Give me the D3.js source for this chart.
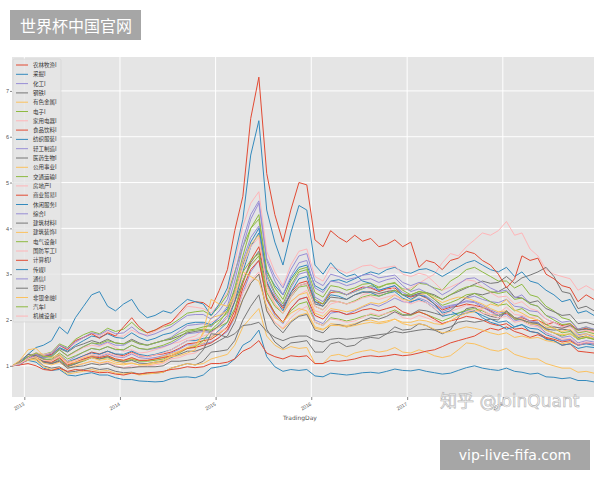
<!DOCTYPE html>
<html lang="zh">
<head>
<meta charset="utf-8">
<script src="https://d3js.org/d3.v7.min.js"></script>
<style>
  body { margin:0; background:#fff; font-family:"Noto Sans CJK SC","DejaVu Sans",sans-serif; }
</style>
</head>
<body>
<script>
// 申万一级行业 累计净值（每月中旬取值，2012-11 ～ 2018-12）
const industryNames = ["农林牧渔I","采掘I","化工I","钢铁I","有色金属I","电子I","家用电器I","食品饮料I","纺织服装I","轻工制造I",
  "医药生物I","公用事业I","交通运输I","房地产I","商业贸易I","休闲服务I","综合I","建筑材料I","建筑装饰I","电气设备I",
  "国防军工I","计算机I","传媒I","通信I","银行I","非银金融I","汽车I","机械设备I"];
const palette = ["#E24A33","#348ABD","#988ED5","#777777","#FBC15E","#8EBA42","#FFB5B8"];
const tradingDays = d3.timeMonth.range(new Date(2012,10,1), new Date(2018,11,2)).map(d => d3.timeDay.offset(d,14));
const yearTicks = [2013,2014,2015,2016,2017,2018];
const valueTicks = [1,2,3,4,5,6,7];

const nonglin = [1.00,1.06, 1.20,1.26,1.15,1.12,1.24,1.06,1.14,1.22,1.30,1.26,1.32,1.25, 1.22,1.30,1.22,1.20,1.24,1.26,1.30,1.38,1.48,1.50,1.55,1.58, 1.70,1.85,2.20,2.80,3.30,3.60,2.80,2.50,2.25,2.60,2.80,2.85, 2.40,2.35,2.60,2.62,2.55,2.65,2.72,2.70,2.62,2.68,2.70,2.55, 2.50,2.55,2.48,2.35,2.22,2.28,2.30,2.35,2.32,2.28,2.20,2.10, 2.15,2.02,2.05,1.98,2.00,1.90,1.95,1.88,1.92,1.78,1.82,1.76];
const caijue = [1.00,1.05, 1.12,1.08,0.95,0.90,0.92,0.80,0.78,0.82,0.85,0.80,0.80,0.74, 0.70,0.70,0.67,0.66,0.65,0.66,0.72,0.75,0.76,0.74,0.80,0.95, 0.98,1.02,1.15,1.45,1.55,1.78,1.20,0.98,0.88,0.92,0.90,0.92, 0.78,0.76,0.84,0.82,0.80,0.82,0.85,0.86,0.84,0.88,0.93,0.90, 0.89,0.92,0.88,0.85,0.82,0.84,0.90,0.96,1.00,0.95,0.92,0.90, 0.95,0.88,0.86,0.82,0.84,0.76,0.75,0.72,0.74,0.68,0.68,0.65];
const huagong = [1.00,1.05, 1.16,1.22,1.10,1.06,1.16,1.00,1.06,1.14,1.22,1.20,1.26,1.20, 1.18,1.26,1.18,1.16,1.18,1.22,1.28,1.36,1.46,1.45,1.48,1.52, 1.62,1.75,2.05,2.60,3.05,3.30,2.45,2.10,1.92,2.25,2.45,2.50, 2.00,1.92,2.15,2.18,2.12,2.20,2.28,2.35,2.30,2.38,2.48,2.40, 2.38,2.48,2.42,2.30,2.18,2.25,2.35,2.48,2.52,2.45,2.40,2.38, 2.45,2.30,2.28,2.20,2.18,2.02,1.95,1.85,1.88,1.68,1.70,1.62];
const gangtie = [1.00,1.07, 1.18,1.15,1.00,0.95,0.98,0.86,0.88,0.92,0.96,0.92,0.94,0.88, 0.85,0.86,0.82,0.84,0.84,0.86,0.95,1.00,1.05,1.02,1.10,1.30, 1.32,1.35,1.55,2.00,2.30,2.55,1.80,1.52,1.38,1.50,1.52,1.55, 1.30,1.30,1.48,1.52,1.42,1.45,1.58,1.62,1.60,1.70,1.85,1.78, 1.80,1.92,1.88,1.78,1.70,1.78,2.05,2.25,2.28,2.15,2.08,2.05, 2.20,2.05,2.00,1.92,1.95,1.80,1.78,1.80,1.78,1.62,1.65,1.58];
const youse = [1.00,1.06, 1.15,1.12,0.98,0.92,0.95,0.82,0.85,0.88,0.92,0.88,0.90,0.84, 0.82,0.85,0.80,0.82,0.84,0.86,0.95,1.00,1.05,1.02,1.05,1.15, 1.20,1.25,1.45,1.85,2.05,2.25,1.65,1.45,1.35,1.42,1.38,1.40, 1.05,1.05,1.22,1.25,1.20,1.28,1.32,1.35,1.30,1.33,1.40,1.30, 1.28,1.35,1.30,1.22,1.18,1.22,1.35,1.50,1.48,1.42,1.35,1.32, 1.38,1.25,1.20,1.15,1.15,1.05,1.00,0.95,0.95,0.86,0.88,0.84];
const dianzi = [1.00,1.03, 1.18,1.28,1.25,1.30,1.48,1.40,1.58,1.68,1.75,1.70,1.82,1.75, 1.80,1.95,1.80,1.72,1.78,1.85,1.90,2.02,2.15,2.18,2.20,2.10, 2.30,2.55,3.05,3.60,4.00,4.20,3.00,2.60,2.35,2.75,3.05,3.10, 2.45,2.35,2.65,2.60,2.55,2.62,2.68,2.75,2.70,2.78,2.80,2.68, 2.65,2.80,2.78,2.70,2.65,2.85,2.95,3.10,3.15,3.05,2.95,2.85, 2.85,2.70,2.78,2.55,2.50,2.30,2.20,2.05,2.00,1.80,1.85,1.78];
const jiadian = [1.00,1.08, 1.22,1.28,1.20,1.22,1.35,1.20,1.30,1.40,1.45,1.42,1.50,1.40, 1.32,1.35,1.28,1.30,1.35,1.40,1.48,1.52,1.60,1.65,1.78,1.95, 2.05,2.20,2.45,2.95,3.20,3.40,2.65,2.35,2.15,2.40,2.55,2.65, 2.20,2.15,2.35,2.40,2.35,2.40,2.55,2.60,2.55,2.62,2.72,2.65, 2.70,2.80,2.90,3.00,3.25,3.45,3.40,3.60,3.75,3.90,3.85,3.95, 4.15,3.85,3.90,3.55,3.40,3.10,3.00,2.95,2.90,2.65,2.75,2.65];
const shipin = [1.00,1.02, 1.05,1.00,0.92,0.90,0.95,0.88,0.92,0.90,0.88,0.85,0.86,0.82, 0.80,0.84,0.82,0.85,0.86,0.88,0.92,0.94,0.98,0.96,0.98,1.05, 1.05,1.08,1.15,1.32,1.40,1.55,1.28,1.20,1.15,1.22,1.20,1.22, 1.05,1.05,1.12,1.10,1.12,1.15,1.20,1.22,1.20,1.22,1.25,1.22, 1.24,1.28,1.32,1.35,1.42,1.50,1.55,1.60,1.65,1.75,1.82,1.78, 1.85,1.75,1.70,1.62,1.68,1.60,1.55,1.45,1.48,1.32,1.30,1.28];
const fangzhi = [1.00,1.05, 1.18,1.25,1.15,1.12,1.22,1.08,1.15,1.22,1.28,1.25,1.32,1.26, 1.25,1.32,1.25,1.22,1.25,1.30,1.35,1.45,1.55,1.55,1.60,1.62, 1.78,1.95,2.40,3.05,3.60,3.90,2.85,2.45,2.20,2.60,2.90,2.95, 2.40,2.30,2.55,2.52,2.45,2.55,2.62,2.60,2.52,2.58,2.62,2.48, 2.40,2.45,2.38,2.25,2.08,2.12,2.15,2.20,2.18,2.10,2.02,1.95, 1.98,1.85,1.90,1.82,1.80,1.68,1.62,1.55,1.58,1.45,1.48,1.45];
const qinggong = [1.00,1.04, 1.15,1.22,1.14,1.12,1.25,1.10,1.20,1.30,1.38,1.35,1.42,1.35, 1.35,1.45,1.38,1.35,1.38,1.42,1.48,1.58,1.70,1.72,1.75,1.72, 1.90,2.10,2.60,3.30,3.80,4.05,2.95,2.55,2.30,2.70,3.00,3.05, 2.50,2.40,2.65,2.62,2.55,2.62,2.70,2.72,2.65,2.70,2.75,2.60, 2.52,2.58,2.52,2.40,2.25,2.30,2.35,2.42,2.40,2.32,2.22,2.15, 2.18,2.02,2.08,1.98,1.95,1.78,1.72,1.62,1.65,1.50,1.55,1.52];
const yiyao = [1.00,1.04, 1.14,1.20,1.18,1.22,1.38,1.30,1.42,1.48,1.55,1.50,1.58,1.50, 1.48,1.58,1.50,1.45,1.50,1.55,1.58,1.65,1.72,1.75,1.78,1.75, 1.88,2.05,2.40,2.85,3.25,3.50,2.75,2.45,2.30,2.55,2.75,2.80, 2.35,2.30,2.50,2.48,2.45,2.55,2.60,2.62,2.58,2.62,2.65,2.55, 2.52,2.58,2.60,2.55,2.45,2.55,2.62,2.70,2.78,2.85,2.80,2.82, 2.95,2.80,2.92,2.98,3.05,3.15,2.95,2.62,2.58,2.25,2.30,2.20];
const gongyong = [1.00,1.05, 1.12,1.15,1.10,1.12,1.22,1.08,1.12,1.18,1.22,1.18,1.22,1.15, 1.12,1.16,1.12,1.12,1.15,1.20,1.26,1.32,1.40,1.42,1.50,1.62, 1.72,1.82,2.05,2.45,2.80,3.00,2.20,1.95,1.80,1.98,2.10,2.15, 1.82,1.78,1.92,1.90,1.88,1.92,1.98,2.00,1.95,1.98,2.02,1.92, 1.88,1.92,1.88,1.80,1.72,1.75,1.80,1.85,1.82,1.78,1.72,1.68, 1.72,1.62,1.65,1.60,1.62,1.55,1.52,1.48,1.52,1.45,1.50,1.48];
const jiaotong = [1.00,1.06, 1.15,1.20,1.10,1.08,1.15,1.00,1.05,1.10,1.18,1.15,1.18,1.12, 1.10,1.14,1.10,1.10,1.12,1.15,1.22,1.28,1.38,1.42,1.55,1.78, 1.85,1.95,2.25,2.85,3.20,3.40,2.50,2.15,1.95,2.20,2.35,2.40, 1.95,1.88,2.05,2.02,1.98,2.02,2.08,2.12,2.08,2.15,2.22,2.12, 2.10,2.18,2.12,2.05,1.98,2.05,2.15,2.22,2.25,2.20,2.12,2.10, 2.18,2.02,2.00,1.92,1.90,1.78,1.72,1.65,1.70,1.58,1.62,1.58];
const fangdichan = [1.00,1.08, 1.25,1.22,1.08,1.05,1.10,0.95,1.00,1.05,1.10,1.05,1.08,1.00, 0.96,1.00,0.98,1.00,1.02,1.05,1.15,1.18,1.25,1.28,1.40,1.65, 1.75,1.82,2.10,2.60,2.85,3.05,2.25,1.95,1.82,2.05,2.20,2.30, 1.95,1.88,2.02,2.00,1.95,1.98,2.05,2.15,2.10,2.15,2.18,2.05, 2.02,2.10,2.05,1.98,1.92,1.98,2.08,2.18,2.22,2.15,2.12,2.15, 2.28,2.12,2.10,2.05,2.08,1.95,1.85,1.82,1.85,1.72,1.78,1.75];
const shangmao = [1.00,1.05, 1.15,1.20,1.10,1.08,1.18,1.02,1.08,1.15,1.20,1.18,1.22,1.15, 1.12,1.18,1.12,1.12,1.15,1.18,1.22,1.30,1.38,1.40,1.45,1.50, 1.62,1.78,2.10,2.70,3.10,3.30,2.45,2.15,1.95,2.25,2.45,2.50, 2.10,2.02,2.20,2.18,2.12,2.15,2.22,2.25,2.20,2.25,2.30,2.18, 2.12,2.18,2.12,2.02,1.92,1.98,2.02,2.08,2.05,2.00,1.92,1.88, 1.92,1.80,1.82,1.75,1.72,1.62,1.58,1.52,1.55,1.45,1.50,1.48];
const xiuxian = [1.00,1.04, 1.16,1.25,1.20,1.24,1.40,1.32,1.45,1.55,1.65,1.62,1.70,1.62, 1.60,1.72,1.62,1.55,1.60,1.68,1.72,1.82,1.92,1.95,1.95,1.90, 2.05,2.25,2.65,3.20,3.70,4.00,3.05,2.75,2.55,2.90,3.15,3.20, 2.75,2.65,2.85,2.88,2.82,2.90,2.98,3.05,3.00,3.10,3.15,3.05, 3.02,3.10,3.12,3.05,2.95,3.05,3.15,3.25,3.30,3.20,3.10,3.05, 3.15,2.95,3.05,2.85,2.80,2.65,2.55,2.40,2.45,2.15,2.20,2.10];
const zonghe = [1.00,1.04, 1.15,1.24,1.18,1.20,1.35,1.22,1.32,1.42,1.50,1.45,1.52,1.45, 1.45,1.55,1.48,1.45,1.50,1.55,1.62,1.75,1.88,1.90,1.92,1.85, 2.05,2.30,2.85,3.60,4.20,4.55,3.30,2.85,2.55,2.95,3.25,3.30, 2.70,2.60,2.85,2.82,2.75,2.80,2.88,2.90,2.82,2.88,2.92,2.75, 2.62,2.68,2.60,2.45,2.28,2.32,2.35,2.40,2.38,2.28,2.18,2.10, 2.12,1.98,2.02,1.92,1.88,1.72,1.65,1.55,1.58,1.45,1.50,1.48];
const jiancai = [1.00,1.07, 1.20,1.22,1.10,1.05,1.12,0.98,1.04,1.12,1.18,1.15,1.20,1.12, 1.08,1.12,1.06,1.05,1.08,1.10,1.18,1.25,1.32,1.32,1.38,1.45, 1.55,1.65,1.95,2.45,2.80,3.00,2.20,1.90,1.72,1.95,2.08,2.12, 1.78,1.72,1.88,1.90,1.85,1.90,1.98,2.05,2.02,2.08,2.18,2.10, 2.12,2.22,2.20,2.15,2.10,2.20,2.35,2.50,2.58,2.55,2.60,2.62, 2.72,2.50,2.48,2.38,2.42,2.25,2.18,2.10,2.12,1.92,1.95,1.90];
const jianzhu = [1.00,1.06, 1.16,1.18,1.06,1.02,1.08,0.95,1.00,1.05,1.10,1.06,1.10,1.04, 1.02,1.06,1.02,1.04,1.08,1.12,1.22,1.30,1.40,1.45,1.70,2.05, 2.10,2.20,2.60,3.25,3.65,3.85,2.75,2.35,2.15,2.40,2.55,2.60, 2.15,2.08,2.25,2.22,2.18,2.22,2.30,2.38,2.35,2.42,2.55,2.45, 2.42,2.55,2.58,2.48,2.38,2.45,2.50,2.48,2.42,2.35,2.25,2.18, 2.20,2.05,2.02,1.92,1.90,1.78,1.72,1.68,1.70,1.58,1.65,1.60];
const dianqi = [1.00,1.04, 1.14,1.20,1.14,1.15,1.28,1.15,1.22,1.30,1.38,1.35,1.42,1.36, 1.35,1.45,1.38,1.36,1.40,1.45,1.52,1.62,1.75,1.78,1.80,1.78, 1.95,2.20,2.70,3.40,4.00,4.30,3.10,2.70,2.45,2.85,3.10,3.15, 2.60,2.50,2.75,2.72,2.65,2.70,2.78,2.80,2.72,2.78,2.82,2.65, 2.55,2.62,2.58,2.45,2.32,2.38,2.45,2.55,2.58,2.50,2.40,2.32, 2.35,2.20,2.25,2.12,2.08,1.90,1.82,1.72,1.75,1.58,1.62,1.58];
const jungong = [1.00,1.05, 1.18,1.28,1.25,1.28,1.45,1.35,1.50,1.62,1.70,1.65,1.75,1.65, 1.65,1.78,1.70,1.68,1.75,1.85,1.95,2.10,2.30,2.28,2.25,2.15, 2.35,2.60,3.25,4.05,4.55,4.80,3.50,3.05,2.75,3.20,3.50,3.55, 2.95,2.85,3.15,3.10,3.02,3.10,3.18,3.20,3.12,3.15,3.18,3.00, 2.95,3.02,2.98,2.82,2.65,2.72,2.80,2.88,2.85,2.72,2.60,2.50, 2.52,2.35,2.40,2.25,2.20,2.02,1.95,1.85,1.88,1.72,1.78,1.72];
const jisuanji = [1.00,1.02, 1.15,1.25,1.22,1.25,1.45,1.35,1.55,1.62,1.70,1.60,1.72,1.65, 1.85,2.05,1.85,1.72,1.78,1.88,1.95,2.15,2.35,2.40,2.38,2.25, 2.65,3.10,3.95,4.70,6.40,7.30,5.20,4.30,3.70,4.40,5.00,4.95, 3.75,3.60,3.95,3.80,3.70,3.85,3.72,3.78,3.60,3.65,3.75,3.60, 3.70,3.15,3.30,3.25,3.10,3.30,3.35,3.50,3.45,3.30,3.20,3.00, 2.70,2.90,3.40,3.30,3.35,3.00,2.90,2.75,2.70,2.40,2.55,2.45];
const chuanmei = [1.00,1.05, 1.25,1.40,1.45,1.55,1.85,1.70,2.05,2.30,2.55,2.62,2.30,2.20, 2.35,2.45,2.20,2.05,2.10,2.20,2.15,2.30,2.45,2.40,2.35,2.10, 2.35,2.70,3.40,4.20,5.60,6.35,4.40,3.70,3.20,3.90,4.50,4.40, 3.20,3.00,3.25,3.05,2.95,3.00,2.85,2.80,2.65,2.70,2.75,2.55, 2.45,2.55,2.50,2.35,2.15,2.20,2.10,2.15,2.20,2.05,1.95,1.90, 1.80,1.85,1.90,1.75,1.72,1.58,1.55,1.45,1.48,1.38,1.42,1.40];
const tongxin = [1.00,1.03, 1.15,1.25,1.22,1.28,1.45,1.38,1.52,1.62,1.72,1.68,1.78,1.70, 1.72,1.85,1.72,1.65,1.70,1.78,1.85,1.98,2.10,2.12,2.12,2.02, 2.20,2.45,3.00,3.75,4.30,4.60,3.35,2.95,2.70,3.10,3.40,3.45, 2.85,2.75,3.00,2.95,2.88,2.92,2.98,3.00,2.92,2.95,2.98,2.82, 2.75,2.82,2.80,2.68,2.55,2.65,2.78,2.90,2.92,2.82,2.70,2.62, 2.65,2.48,2.55,2.35,2.30,2.10,2.05,1.95,1.98,1.80,1.85,1.80];
const yinhang = [1.00,1.10, 1.25,1.22,1.08,1.05,1.10,0.95,0.98,1.00,1.05,1.02,1.05,0.98, 0.95,0.96,0.98,0.98,0.98,1.00,1.10,1.10,1.12,1.15,1.35,1.70, 1.68,1.62,1.70,1.88,1.90,1.95,1.75,1.62,1.55,1.62,1.65,1.65, 1.55,1.52,1.58,1.60,1.58,1.60,1.62,1.65,1.68,1.70,1.75,1.72, 1.75,1.78,1.80,1.78,1.80,1.85,1.95,1.98,1.95,1.98,2.02,2.00, 2.20,2.05,2.00,1.95,1.92,1.82,1.85,1.82,1.88,1.78,1.80,1.78];
const feiyin = [1.00,1.12, 1.35,1.38,1.22,1.18,1.25,1.05,1.08,1.12,1.18,1.12,1.15,1.08, 1.05,1.06,1.02,1.02,1.05,1.08,1.20,1.22,1.28,1.35,1.75,2.45, 2.35,2.30,2.55,3.05,2.95,2.85,2.30,2.05,1.95,2.15,2.25,2.20, 1.85,1.80,1.88,1.88,1.85,1.88,1.92,1.95,1.92,1.95,2.02,1.95, 1.95,2.00,1.98,1.92,1.90,1.98,2.08,2.15,2.18,2.25,2.35,2.30, 2.45,2.22,2.15,2.05,2.00,1.85,1.82,1.75,1.80,1.65,1.70,1.66];
const qiche = [1.00,1.06, 1.20,1.28,1.20,1.20,1.35,1.22,1.32,1.42,1.50,1.48,1.55,1.50, 1.48,1.55,1.48,1.45,1.50,1.55,1.60,1.70,1.78,1.80,1.85,1.88, 2.00,2.15,2.50,3.05,3.30,3.45,2.60,2.30,2.15,2.50,2.72,2.75, 2.30,2.22,2.42,2.40,2.35,2.42,2.50,2.55,2.52,2.58,2.65,2.55, 2.55,2.62,2.60,2.52,2.45,2.55,2.65,2.72,2.75,2.70,2.62,2.58, 2.62,2.45,2.48,2.35,2.30,2.10,2.00,1.90,1.92,1.72,1.75,1.70];
const jixie = [1.00,1.05, 1.15,1.20,1.12,1.10,1.20,1.05,1.12,1.20,1.26,1.22,1.28,1.22, 1.20,1.28,1.22,1.20,1.24,1.28,1.35,1.45,1.55,1.58,1.65,1.72, 1.85,2.05,2.50,3.15,3.60,3.80,2.75,2.35,2.15,2.50,2.75,2.80, 2.30,2.22,2.42,2.40,2.35,2.40,2.48,2.52,2.45,2.50,2.55,2.42, 2.35,2.42,2.38,2.25,2.12,2.18,2.25,2.32,2.30,2.22,2.12,2.05, 2.08,1.95,1.98,1.88,1.85,1.70,1.65,1.58,1.60,1.48,1.52,1.50];

const seriesList = [nonglin,caijue,huagong,gangtie,youse,dianzi,jiadian,shipin,fangzhi,qinggong,
  yiyao,gongyong,jiaotong,fangdichan,shangmao,xiuxian,zonghe,jiancai,jianzhu,dianqi,
  jungong,jisuanji,chuanmei,tongxin,yinhang,feiyin,qiche,jixie];

// 描画エリア
const W = 600, H = 480;
const plot = {left:12, right:594, top:57, bottom:397};
const svg = d3.select("body").append("svg").attr("width", W).attr("height", H);

const x = d3.scaleTime()
  .domain([tradingDays[0], tradingDays[tradingDays.length - 1]])
  .range([plot.left, plot.right]);
const y = d3.scaleLinear().domain([0.32, 7.74]).range([plot.bottom, plot.top]);

// 背景
svg.append("rect")
  .attr("x", plot.left).attr("y", plot.top)
  .attr("width", plot.right - plot.left).attr("height", plot.bottom - plot.top)
  .attr("fill", "#E5E5E5");

// グリッド
const yearDates = yearTicks.map(yr => new Date(yr, 0, 1));
svg.append("g").selectAll("line").data(yearDates).enter().append("line")
  .attr("x1", d => x(d)).attr("x2", d => x(d))
  .attr("y1", plot.top).attr("y2", plot.bottom)
  .attr("stroke", "#fff").attr("stroke-width", 1);
svg.append("g").selectAll("line").data(valueTicks).enter().append("line")
  .attr("x1", plot.left).attr("x2", plot.right)
  .attr("y1", d => y(d)).attr("y2", d => y(d))
  .attr("stroke", "#fff").attr("stroke-width", 1);

// 軸
const xAxis = svg.append("g")
  .attr("transform", `translate(0,${plot.bottom})`)
  .call(d3.axisBottom(x).tickValues(yearDates).tickSize(3).tickFormat(d3.timeFormat("%Y")));
xAxis.select(".domain").remove();
xAxis.selectAll("line").attr("stroke", "#888");
// tickのgはすでにx位置へ移動済みなので、回転の中心は(0,6)
xAxis.selectAll("text")
  .attr("font-size", 5).attr("fill", "#555")
  .attr("text-anchor", "end")
  .attr("x", -1).attr("y", 6).attr("dy", "0.35em")
  .attr("transform", "rotate(-30,0,6)");

const yAxis = svg.append("g")
  .attr("transform", `translate(${plot.left},0)`)
  .call(d3.axisLeft(y).tickValues(valueTicks).tickSize(2).tickFormat(d3.format("d")));
yAxis.select(".domain").remove();
yAxis.selectAll("line").attr("stroke", "#888");
yAxis.selectAll("text").attr("font-size", 5.5).attr("fill", "#555").attr("x", -3);

svg.append("text")
  .attr("x", 300).attr("y", 420).attr("text-anchor", "middle")
  .attr("font-size", 6).attr("fill", "#555")
  .attr("font-family", "DejaVu Sans")
  .text("TradingDay");

// 折れ線
svg.append("clipPath").attr("id", "clip").append("rect")
  .attr("x", plot.left).attr("y", plot.top)
  .attr("width", plot.right - plot.left).attr("height", plot.bottom - plot.top);

const line = d3.line()
  .x((d, i) => x(tradingDays[i]))
  .y(d => y(d));

svg.append("g").attr("clip-path", "url(#clip)")
  .selectAll("path").data(seriesList).enter().append("path")
  .attr("d", line)
  .attr("fill", "none")
  .attr("stroke", (d, i) => palette[i % palette.length])
  .attr("stroke-width", 1)
  .attr("stroke-linejoin", "round");

// 凡例
const legend = svg.append("g");
legend.append("rect")
  .attr("x", 13).attr("y", 59).attr("width", 48).attr("height", 263)
  .attr("rx", 1.5)
  .attr("fill", "#E5E5E5").attr("fill-opacity", 0.8)
  .attr("stroke", "#cfcfcf").attr("stroke-width", 0.5);
const item = legend.selectAll("g.item").data(industryNames).enter().append("g")
  .attr("class", "item")
  .attr("transform", (d, i) => `translate(0,${65 + i * 9.3})`);
item.append("line")
  .attr("x1", 16).attr("x2", 28).attr("y1", 0).attr("y2", 0)
  .attr("stroke", (d, i) => palette[i % palette.length]).attr("stroke-width", 1);
item.append("text")
  .attr("x", 33).attr("y", 2)
  .attr("font-size", 5.5).attr("fill", "#333")
  .text(d => d);

// 透かし
svg.append("text")
  .attr("x", 440).attr("y", 407)
  .attr("font-size", 17).attr("font-family", "DejaVu Sans, Noto Sans CJK SC")
  .attr("fill", "#f2f2f2").attr("fill-opacity", 0.85)
  .attr("stroke", "#b5b5b5").attr("stroke-width", 0.6)
  .text("知乎 @JoinQuant");

svg.append("rect").attr("x", 10).attr("y", 10).attr("width", 131).attr("height", 30).attr("fill", "#a6a6a6");
svg.append("text").attr("x", 20).attr("y", 32)
  .attr("font-size", 16).attr("fill", "#fff")
  .text("世界杯中国官网");

svg.append("rect").attr("x", 440).attr("y", 440).attr("width", 150).attr("height", 30).attr("fill", "#a6a6a6");
svg.append("text").attr("x", 515).attr("y", 460).attr("text-anchor", "middle")
  .attr("font-size", 14).attr("fill", "#fff").attr("font-family", "DejaVu Sans")
  .text("vip-live-fifa.com");
</script>
</body>
</html>
